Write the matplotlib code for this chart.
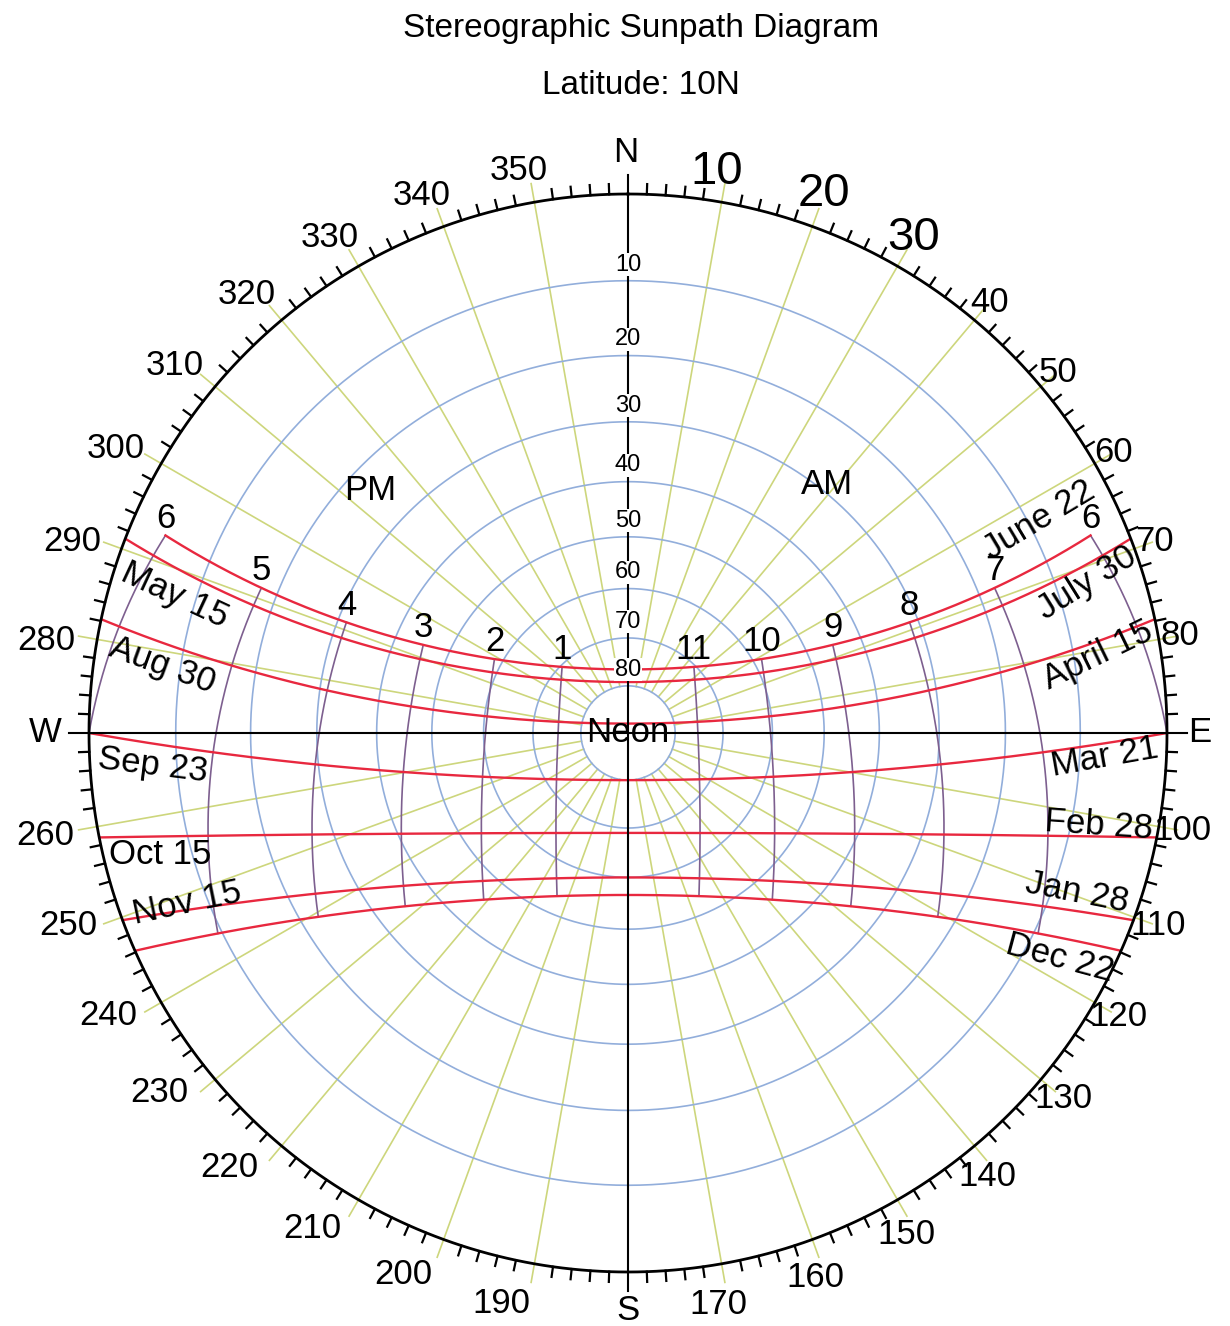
import numpy as np
import matplotlib.pyplot as plt

plt.rcParams['font.family'] = ['Liberation Sans', 'DejaVu Sans']

latitude = 10
title = "Stereographic Sunpath Diagram"
subtitle = "Latitude: 10N"

altitude_rings = [10, 20, 30, 40, 50, 60, 70, 80]
azimuth_marks = list(range(0, 360, 10))
big_az_labels = [10, 20, 30]

# declination of every drawn date curve
date_decl = [23.45, 20.8, 12.0, 0.0, -11.0, -20.0, -23.45]
right_dates = ["June 22", "July 30", "April 15", "Mar 21", "Feb 28", "Jan 28", "Dec 22"]
left_dates = ["", "May 15", "Aug 30", "Sep 23", "Oct 15", "Nov 15", ""]
# June line is only drawn 6am..6pm, the others run horizon to horizon
cut_at_six = [True, False, False, False, False, False, False]

am_hours = [6, 7, 8, 9, 10, 11]
pm_hours = [13, 14, 15, 16, 17, 18]
pm_names = ["1", "2", "3", "4", "5", "6"]

# label placement in pixels of the original (x, y, rotation)
right_pos = [(1039, 520, 31), (1087, 583, 32), (1098, 655, 26), (1105, 757, 10),
             (1099, 825, -4), (1077, 893, -11), (1060, 958, -15)]
left_pos = [None, (175, 595, -25), (162, 665, -20), (153, 765, -7),
            (160, 855, 0), (187, 903, 12), None]

CX, CY, RPX = 628, 733, 539.0


def px(x, y):
    return (x - CX) / RPX, (CY - y) / RPX


def proj(alt, az):
    r = np.tan(np.radians(90 - np.asarray(alt)) / 2)
    a = np.radians(az)
    return r * np.sin(a), r * np.cos(a)


def sun(dec, H):
    phi, d, h = np.radians(latitude), np.radians(dec), np.radians(H)
    s = np.sin(phi) * np.sin(d) + np.cos(phi) * np.cos(d) * np.cos(h)
    alt = np.degrees(np.arcsin(s))
    az = np.degrees(np.arctan2(-np.cos(d) * np.sin(h),
                               np.sin(d) * np.cos(phi) - np.cos(d) * np.sin(phi) * np.cos(h)))
    return alt, az


def label_shift(az):
    # the original labels drift a little around the rim
    if az == 10:
        return -1.0
    if 135 < az < 180:
        return 1.0
    if 180 < az < 235:
        return 2.5
    if az == 240:
        return 1.5
    if az == 250:
        return 1.0
    if az > 270:
        return -1.0
    return 0.0


fig = plt.figure(figsize=(12.3, 13.26), dpi=100)
ax = fig.add_axes([0, 0, 1, 1])
ax.set_xlim(-CX / RPX, (1230 - CX) / RPX)
ax.set_ylim((CY - 1326) / RPX, CY / RPX)
ax.axis('off')

yellow = '#cdd67c'
blue = '#92aedb'
purple = '#7d5f8f'
red = '#e8283f'

# azimuth lines
r_in = np.tan(np.radians(5))
for az in azimuth_marks:
    if az % 90 == 0:
        continue
    x0, y0 = r_in * np.sin(np.radians(az)), r_in * np.cos(np.radians(az))
    x1, y1 = 1.035 * np.sin(np.radians(az)), 1.035 * np.cos(np.radians(az))
    ax.plot([x0, x1], [y0, y1], color=yellow, lw=1.2, zorder=1)

# altitude rings
t = np.linspace(0, 360, 721)
for alt in altitude_rings:
    x, y = proj(np.full_like(t, alt), t)
    ax.plot(x, y, color=blue, lw=1.2, zorder=2)
    r = np.tan(np.radians(90 - alt) / 2)
    ax.text(0, r + 0.03, str(alt), ha='center', va='center', fontsize=17, zorder=7,
            bbox=dict(facecolor='white', edgecolor='none', pad=0.3))

# hour lines
decs = np.linspace(-23.45, 23.45, 300)
for hr in am_hours + pm_hours:
    alt, az = sun(decs, (hr - 12) * 15)
    m = alt >= 0
    x, y = proj(alt[m], az[m])
    ax.plot(x, y, color=purple, lw=1.2, zorder=3)

# date lines
Hs = np.linspace(-180, 180, 4001)
for dec, six in zip(date_decl, cut_at_six):
    alt, az = sun(dec, Hs)
    m = alt >= 0
    if six:
        m &= np.abs(Hs) <= 90
    x, y = proj(alt[m], az[m])
    ax.plot(x, y, color=red, lw=1.7, zorder=4)

# hour numbers along the June line
for hr, name in zip(am_hours + pm_hours, [str(h) for h in am_hours] + pm_names):
    alt, az = sun(date_decl[0], (hr - 12) * 15)
    x, y = proj(alt, az)
    ax.text(x, y + 0.032, name, ha='center', va='center', fontsize=25, zorder=7)

# horizon, ticks, axes
x, y = proj(np.zeros_like(t), t)
ax.plot(x, y, color='black', lw=2.0, zorder=5)
for a in range(0, 360, 2):
    if a % 10 == 0:
        continue
    s, c = np.sin(np.radians(a)), np.cos(np.radians(a))
    ax.plot([s, 1.019 * s], [c, 1.019 * c], color='black', lw=1.6, zorder=5)
ax.plot([0, 0], [-1.035, 1.035], color='black', lw=1.5, zorder=5)
ax.plot([-1.037, 1.037], [0, 0], color='black', lw=1.5, zorder=5)

# azimuth labels
for az in azimuth_marks:
    if az % 90 == 0:
        continue
    a = np.radians(az + label_shift(az))
    r = 576 - 14.5 * np.sin(np.radians(az)) - 5.5 * np.cos(np.radians(az))
    big = az in big_az_labels
    if big and az != 10:
        r += 8
    ax.text(r * np.sin(a) / RPX, r * np.cos(a) / RPX, str(az), ha='center', va='center',
            fontsize=34 if big else 25, zorder=7)

for name, (xp, yp) in zip(["N", "S", "W", "E"], [(626, 153), (628, 1310), (45, 733), (1200, 733)]):
    ax.text(*px(xp, yp), name, ha='center', va='center', fontsize=25, zorder=7)

# date names
for name, pos in zip(right_dates + left_dates, right_pos + left_pos):
    if pos is None or not name:
        continue
    ax.text(*px(pos[0], pos[1]), name, ha='center', va='center', rotation=pos[2],
            fontsize=25, zorder=7, rotation_mode='anchor')

ax.text(*px(370, 490), "PM", ha='center', va='center', fontsize=25, zorder=7)
ax.text(*px(827, 485), "AM", ha='center', va='center', fontsize=25, zorder=7)
ax.text(0, 0, "Neon", ha='center', va='center', fontsize=25, zorder=7)

fig.text(641 / 1230, 1 - 28 / 1326, title, ha='center', va='center', fontsize=24)
fig.text(641 / 1230, 1 - 85 / 1326, subtitle, ha='center', va='center', fontsize=24)

fig.savefig('out.png', dpi=100)
